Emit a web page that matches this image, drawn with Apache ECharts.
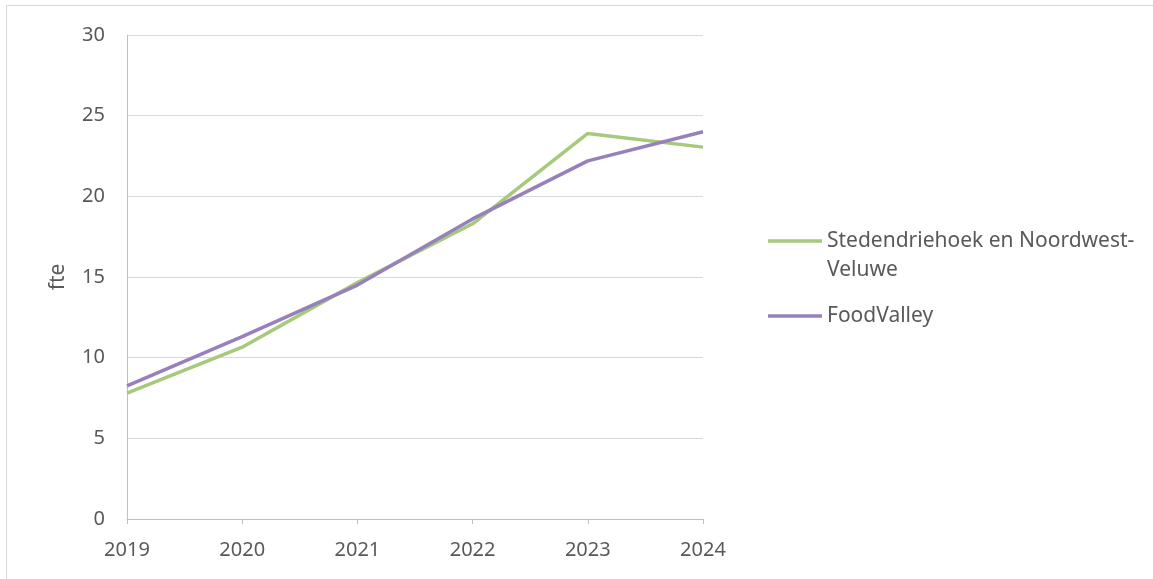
<!DOCTYPE html>
<html>
<head>
<meta charset="utf-8">
<script src="https://cdn.jsdelivr.net/npm/echarts@6/dist/echarts.min.js"></script>
<style>
  html, body { margin: 0; padding: 0; background: #fff; }
  #frame { position: absolute; left: 6px; top: 5px; width: 1160px; height: 600px; border: 1px solid #d9d9d9; box-sizing: border-box; }
  #chart { position: absolute; left: 0; top: 0; width: 1153px; height: 579px; }
</style>
</head>
<body>
<div id="frame"></div>
<div id="chart"></div>
<script>
  // jaren op de x-as
  var years = ['2019', '2020', '2021', '2022', '2023', '2024'];
  // fte per regio
  var stedendriehoek = [7.8, 10.65, 14.65, 18.3, 23.9, 23.05];
  var foodValley = [8.25, 11.3, 14.5, 18.6, 22.2, 24.0];
  var seriesNames = ['Stedendriehoek en Noordwest-Veluwe', 'FoodValley'];

  var labelColor = '#595959';
  var fontFam = '"Noto Sans", "Open Sans", sans-serif';

  var myChart = echarts.init(document.getElementById('chart'));
  myChart.setOption({
    animation: false,
    grid: { left: 127, right: 450, top: 35, bottom: 60 },
    legend: {
      orient: 'vertical',
      left: 768,
      top: 197.5,
      padding: 0,
      icon: 'rect',
      itemWidth: 54,
      itemHeight: 3.5,
      itemGap: 17,
      data: seriesNames,
      formatter: function (name) {
        // eerste lege regel zodat het lijntje bij de eerste tekstregel staat
        if (name === seriesNames[0]) return ' \nStedendriehoek en Noordwest-\nVeluwe';
        return name;
      },
      textStyle: { color: labelColor, fontSize: 21, fontFamily: fontFam, lineHeight: 29 }
    },
    xAxis: {
      type: 'category',
      data: years,
      boundaryGap: false,
      axisLine: { lineStyle: { color: '#bfbfbf', width: 1 } },
      axisTick: { show: true, length: 5, lineStyle: { color: '#bfbfbf' } },
      axisLabel: { color: labelColor, fontSize: 20, fontFamily: fontFam, margin: 21 },
      splitLine: { show: false }
    },
    yAxis: {
      type: 'value',
      min: 0,
      max: 30,
      interval: 5,
      name: 'fte',
      nameLocation: 'middle',
      nameGap: 58,
      nameTextStyle: { color: labelColor, fontSize: 21, fontFamily: fontFam },
      axisLine: { show: true, lineStyle: { color: '#bfbfbf', width: 1 } },
      axisTick: { show: false },
      axisLabel: { color: labelColor, fontSize: 20, fontFamily: fontFam, margin: 22 },
      splitLine: { lineStyle: { color: '#d9d9d9', width: 1 } }
    },
    series: [{
      name: seriesNames[0],
      type: 'line',
      data: stedendriehoek,
      symbol: 'none',
      color: '#a6c97b',
      lineStyle: { width: 3.5, color: '#a6c97b' }
    }, {
      name: seriesNames[1],
      type: 'line',
      data: foodValley,
      symbol: 'none',
      color: '#9880bd',
      lineStyle: { width: 3.5, color: '#9880bd' }
    }]
  });
</script>
</body>
</html>
